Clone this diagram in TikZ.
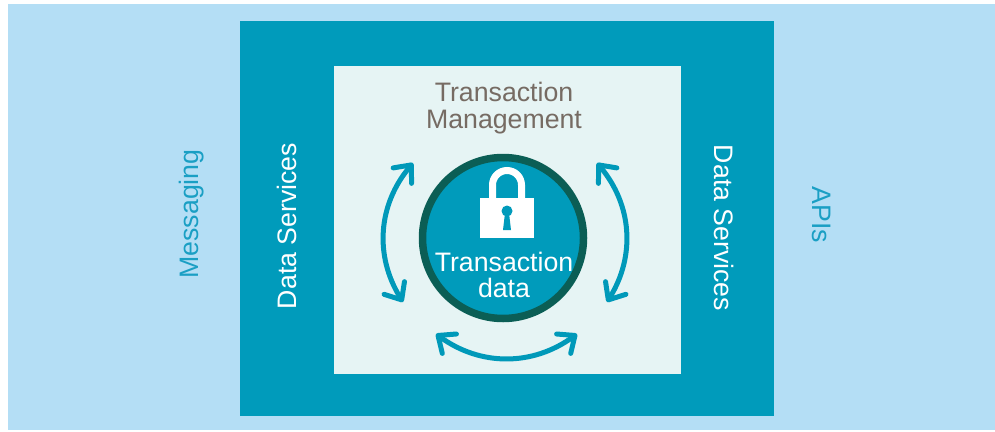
\documentclass[tikz,border=0pt]{standalone}
\usepackage{fontspec}
\setmainfont{Liberation Sans}
\usetikzlibrary{arrows.meta}
\definecolor{couter}{HTML}{B4DEF5}
\definecolor{cteal}{HTML}{009BBB}
\definecolor{cpale}{HTML}{E6F4F4}
\definecolor{cring}{HTML}{0B5E55}
\definecolor{cgray}{HTML}{766B63}
\definecolor{carrow}{HTML}{0099B9}
\definecolor{clabel}{HTML}{1A9FC4}
\tikzset{
  lbl/.style={font=\fontsize{26.7}{26.5}\selectfont, inner sep=0pt, align=center},
  cyc/.style={draw=carrow, line width=5pt, line cap=round,
    {Straight Barb[length=14pt,width=24pt,round]}-{Straight Barb[length=14pt,width=24pt,round]}},
}
\begin{document}
\begin{tikzpicture}[x=1pt,y=-1pt]
\useasboundingbox (0,0) rectangle (995,431);
\fill[white] (0,0) rectangle (995,431);
\fill[couter] (8,4) rectangle (995,430);
\fill[cteal] (240,21) rectangle (774,416);
\fill[cpale] (334,66) rectangle (681,374);
% side labels
\node[lbl, text=clabel, rotate=90] (msg) at (192,214) {Messaging};
\node[lbl, text=white, rotate=90] (dsl) at (287,226) {Data Services};
\node[lbl, text=white, rotate=-90] (dsr) at (724,228) {Data Services};
\node[lbl, text=clabel, rotate=-90] (api) at (822,215) {APIs};
% title
\node[lbl, text=cgray] (tm) at (504,108) {Transaction\\Management};
% core circle
\node[circle, draw=cring, fill=cteal, line width=7.5pt, minimum size=161pt, inner sep=0pt] (core) at (503,238) {};
% lock
\fill[white] (480,198) rectangle (534,238);
\draw[white, line width=7pt] (492.5,199) -- (492.5,185) arc[start angle=180, end angle=360, radius=14.5] -- (521.5,199);
\fill[cteal] (507,211) circle[radius=5.5];
\fill[cteal] (505,213) -- (509,213) -- (511,230) -- (503,230) -- cycle;
\node[lbl, text=white] (td) at (504,275) {Transaction\\data};
% cycle arrows
\coordinate (lb) at (403,302);
\coordinate (lt) at (413,163);
\coordinate (rb) at (607,302);
\coordinate (rt) at (597,163);
\coordinate (bl) at (436,334);
\coordinate (br) at (577,334);
\draw[cyc] (lb) to[bend left=36] (lt);
\draw[cyc] (rb) to[bend right=36] (rt);
\draw[cyc] (bl) to[bend right=36] (br);
\end{tikzpicture}
\end{document}
